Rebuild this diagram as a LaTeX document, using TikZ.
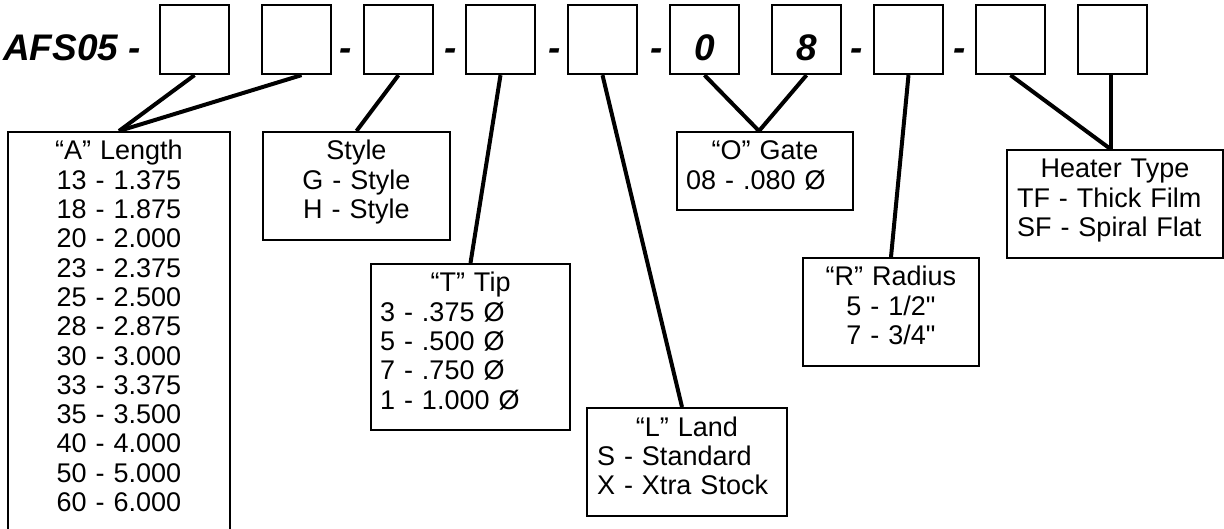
\documentclass[tikz,border=0pt]{standalone}
\usepackage{fontspec}
\setmainfont{Liberation Sans}
\usepackage{tikz}

\newcommand{\topgap}{\rule{0pt}{28pt}}
\newcommand{\botgap}{\rule[-21pt]{0pt}{21pt}}

\begin{document}
\begin{tikzpicture}[x=1pt, y=-1pt,
  codebox/.style={draw, line width=2.3pt, minimum width=69pt, minimum height=69pt, inner sep=0pt,
    text height=53pt, text depth=10pt, font=\fontsize{37}{40}\selectfont\bfseries\itshape},
  codetext/.style={anchor=base, inner sep=0pt, font=\fontsize{37}{40}\selectfont\bfseries\itshape},
  keybox/.style={draw, line width=2pt, anchor=north west, inner xsep=9pt, inner ysep=0pt,
    font=\fontsize{27}{29.3}\selectfont},
  wire/.style={line width=4pt}]

  \useasboundingbox (0, 0) rectangle (1224, 529);

  \node[codetext, anchor=base west] (partno) at (3, 61) {AFS05 -};

  \node[codebox] (lenA) at (194.5, 39.5) {};
  \node[codebox] (lenB) at (296.5, 39.5) {};
  \node[codetext] (dashA) at (346, 61) {-};
  \node[codebox] (sty) at (398.5, 39.5) {};
  \node[codetext] (dashB) at (451, 61) {-};
  \node[codebox] (tip) at (500.5, 39.5) {};
  \node[codetext] (dashC) at (555, 61) {-};
  \node[codebox] (land) at (602.5, 39.5) {};
  \node[codetext] (dashD) at (657, 61) {-};
  \node[codebox] (gateA) at (704.5, 39.5) {0};
  \node[codebox] (gateB) at (806.5, 39.5) {8};
  \node[codetext] (dashE) at (857, 61) {-};
  \node[codebox] (rad) at (908.5, 39.5) {};
  \node[codetext] (dashF) at (960, 61) {-};
  \node[codebox] (heatA) at (1010.5, 39.5) {};
  \node[codebox] (heatB) at (1112.5, 39.5) {};

  \node[keybox, text width=204pt, align=center] (lengthbox) at (7, 131)
    {\topgap“A” Length\\13 - 1.375\\18 - 1.875\\20 - 2.000\\23 - 2.375\\25 - 2.500\\28 - 2.875\\
     30 - 3.000\\33 - 3.375\\35 - 3.500\\40 - 4.000\\50 - 5.000\\60 - 6.000\botgap};

  \node[keybox, text width=169pt, align=center] (stylebox) at (262, 131)
    {\topgap Style\\G - Style\\H - Style\botgap};

  \node[keybox, text width=181pt, align=left] (tipbox) at (370, 263)
    {\topgap\hfill“T” Tip\hfill\null\\3 - .375 Ø\\5 - .500 Ø\\7 - .750 Ø\\1 - 1.000 Ø\botgap};

  \node[keybox, text width=180pt, inner xsep=10pt, align=left] (landbox) at (586, 407)
    {\topgap\hfill“L” Land\hfill\null\\S - Standard\\X - Xtra Stock\botgap};

  \node[keybox, text width=158pt, align=left] (gatebox) at (676, 131)
    {\topgap\hfill“O” Gate\hfill\null\\08 - .080 Ø\botgap};

  \node[keybox, text width=158pt, align=center] (radbox) at (802, 257)
    {\topgap“R” Radius\\5 - 1/2\textquotedbl\\7 - 3/4\textquotedbl\botgap};

  \node[keybox, text width=196pt, inner xsep=10pt, align=left] (heatbox) at (1006, 149)
    {\topgap\hfill Heater Type\hfill\null\\TF - Thick Film\\SF - Spiral Flat\botgap};

  \draw[wire] (lenA.south) -- (lengthbox.north);
  \draw[wire] ([xshift=5pt]lenB.south) -- (lengthbox.north);
  \draw[wire] (sty.south) -- (stylebox.north);
  \draw[wire] (tip.south) -- (tipbox.north);
  \draw[wire] (land.south) -- ([xshift=-5pt]landbox.north);
  \draw[wire] (gateA.south) -- ([xshift=-6pt]gatebox.north);
  \draw[wire] (gateB.south) -- ([xshift=-6pt]gatebox.north);
  \draw[wire] (rad.south) -- (radbox.north);
  \draw[wire] (heatA.south) -- ([xshift=-2pt]heatB.south |- heatbox.north);
  \draw[wire] ([xshift=-2pt]heatB.south) -- ([xshift=-2pt]heatB.south |- heatbox.north);

\end{tikzpicture}
\end{document}
